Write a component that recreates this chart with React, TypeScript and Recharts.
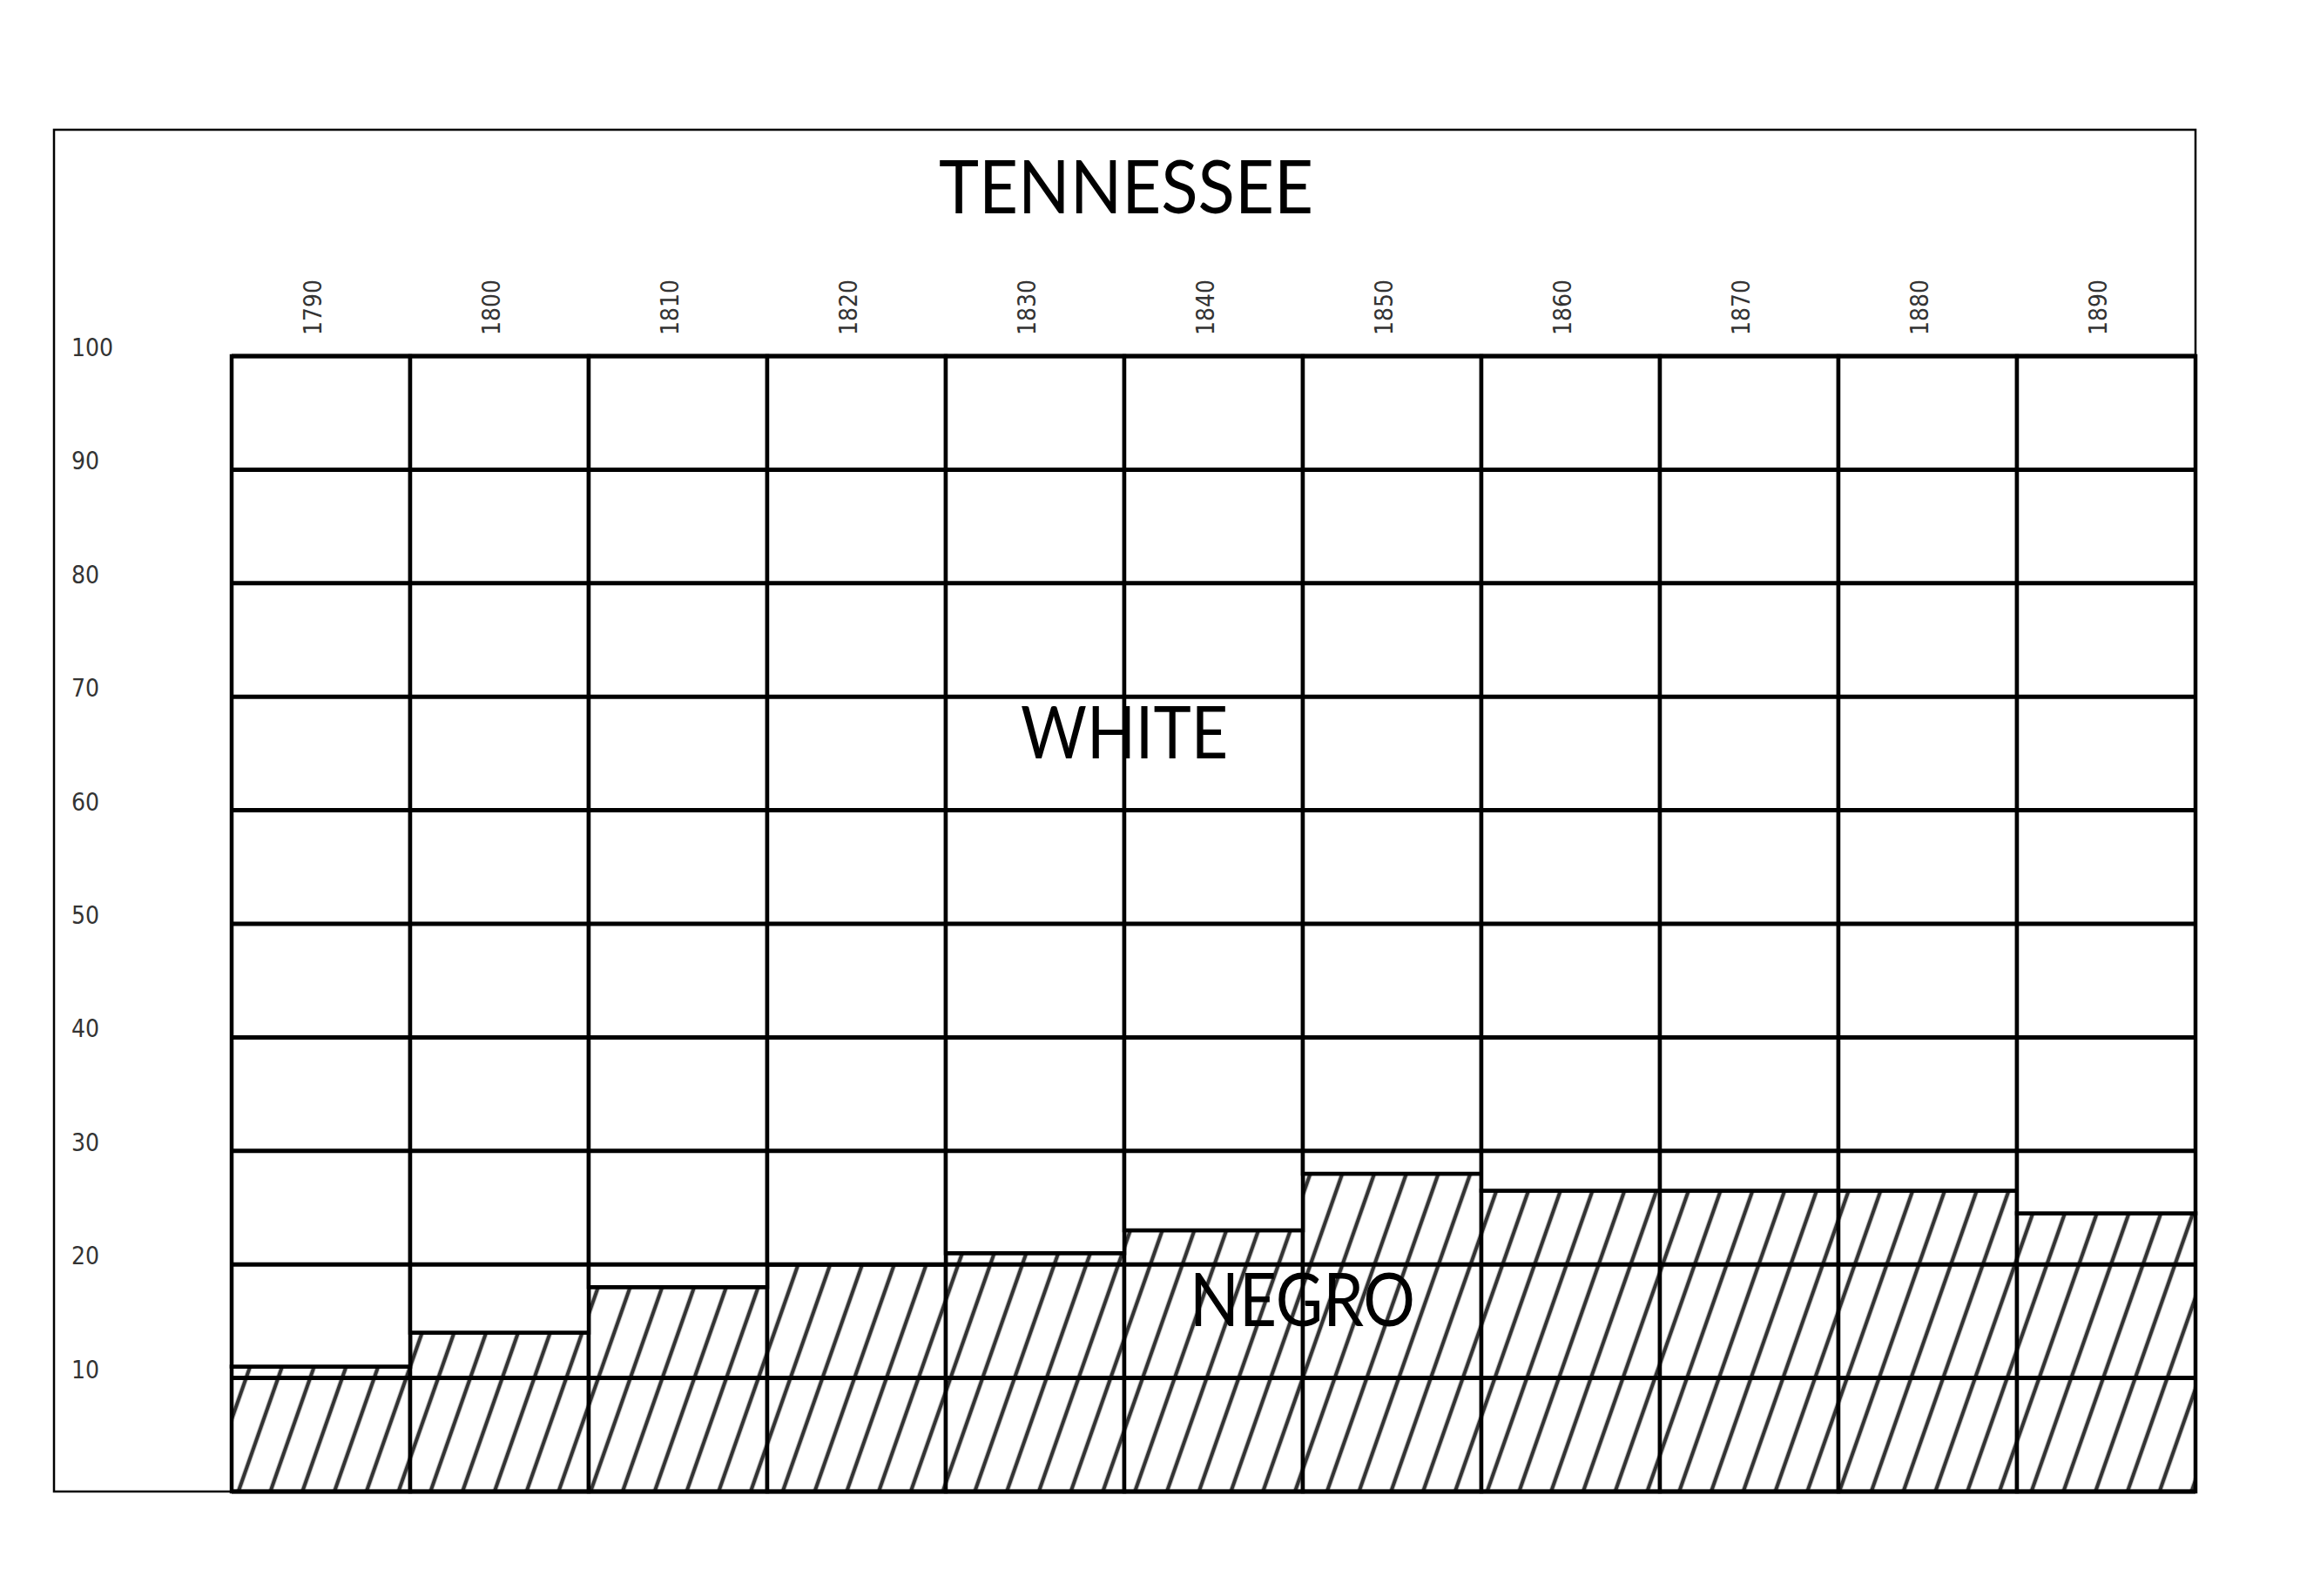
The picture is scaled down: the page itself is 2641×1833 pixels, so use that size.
import { BarChart, Bar, XAxis, YAxis, ReferenceLine } from "recharts";

// census years, percent of population by race (Tennessee)
const years = ["1790", "1800", "1810", "1820", "1830", "1840", "1850", "1860", "1870", "1880", "1890"];
const negroPct = [11, 14, 18, 20, 21, 23, 28, 26.5, 26.5, 26.5, 24.5];
const whitePct = [89, 86, 82, 80, 79, 77, 72, 73.5, 73.5, 73.5, 75.5];
const yTicks = [10, 20, 30, 40, 50, 60, 70, 80, 90, 100];
const gridValues = [0, 10, 20, 30, 40, 50, 60, 70, 80, 90, 100];

const W = 2641;
const H = 1833;
const tickFont = "'DejaVu Sans Condensed', 'DejaVu Sans', sans-serif";
const titleFont = "Lato, 'Open Sans', sans-serif";

const data = years.map((year, i) => ({ year, negro: negroPct[i], white: whitePct[i] }));

function renderYearTick(props: any) {
  const { x, payload } = props;
  return (
    <text
      key={`yr-${payload.value}`}
      x={0}
      y={0}
      transform={`translate(${x},385) rotate(-90)`}
      textAnchor="start"
      fontFamily={tickFont}
      fontStretch="condensed"
      fontSize={28}
      fill="#333"
    >
      {payload.value}
    </text>
  );
}

function renderPctTick(props: any) {
  const { y, payload } = props;
  return (
    <text
      key={`pct-${payload.value}`}
      x={82}
      y={y}
      textAnchor="start"
      fontFamily={tickFont}
      fontStretch="condensed"
      fontSize={28}
      fill="#333"
    >
      {payload.value}
    </text>
  );
}

export default function App() {
  return (
    <div style={{ position: "absolute", left: 0, top: 0, width: W, height: H, background: "#fff" }}>
      <svg width={0} height={0} style={{ position: "absolute" }}>
        <defs>
          <pattern
            id="hatch"
            patternUnits="userSpaceOnUse"
            width={34.7}
            height={40}
            patternTransform="translate(273.7 1713) rotate(19.3)"
          >
            <rect width={34.7} height={40} fill="#fff" />
            <line x1={0} y1={-5} x2={0} y2={45} stroke="#333" strokeWidth={4.5} />
            <line x1={34.7} y1={-5} x2={34.7} y2={45} stroke="#333" strokeWidth={4.5} />
          </pattern>
        </defs>
      </svg>

      <BarChart
        width={W}
        height={H}
        data={data}
        margin={{ top: 399, right: 120, bottom: 120, left: 256 }}
        barCategoryGap={0}
        barGap={0}
      >
        <XAxis
          dataKey="year"
          orientation="top"
          height={10}
          axisLine={false}
          tickLine={false}
          interval={0}
          tick={renderYearTick}
        />
        <YAxis
          type="number"
          domain={[0, 100]}
          ticks={yTicks}
          width={10}
          axisLine={false}
          tickLine={false}
          interval={0}
          tick={renderPctTick}
        />
        <Bar dataKey="negro" stackId="a" fill="url(#hatch)" stroke="#000" strokeWidth={4.5} isAnimationActive={false} />
        <Bar dataKey="white" stackId="a" fill="#fff" stroke="#000" strokeWidth={4.5} isAnimationActive={false} />
        {gridValues.map((v) => (
          <ReferenceLine key={v} y={v} stroke="#000" strokeWidth={5} />
        ))}
      </BarChart>

      <svg width={W} height={H} style={{ position: "absolute", left: 0, top: 0, pointerEvents: "none" }}>
        <rect x={62} y={149} width={2459} height={1564} fill="none" stroke="#000" strokeWidth={2.5} />
        <text x={1078} y={245} fontFamily={titleFont} fontSize={86} textLength={430} lengthAdjust="spacingAndGlyphs" fill="#000">
          TENNESSEE
        </text>
        <text x={1172} y={871} fontFamily={titleFont} fontSize={84} textLength={238} lengthAdjust="spacingAndGlyphs" fill="#000">
          WHITE
        </text>
        <text x={1366} y={1523} fontFamily={titleFont} fontSize={85} textLength={259} lengthAdjust="spacingAndGlyphs" fill="#000">
          NEGRO
        </text>
      </svg>
    </div>
  );
}
